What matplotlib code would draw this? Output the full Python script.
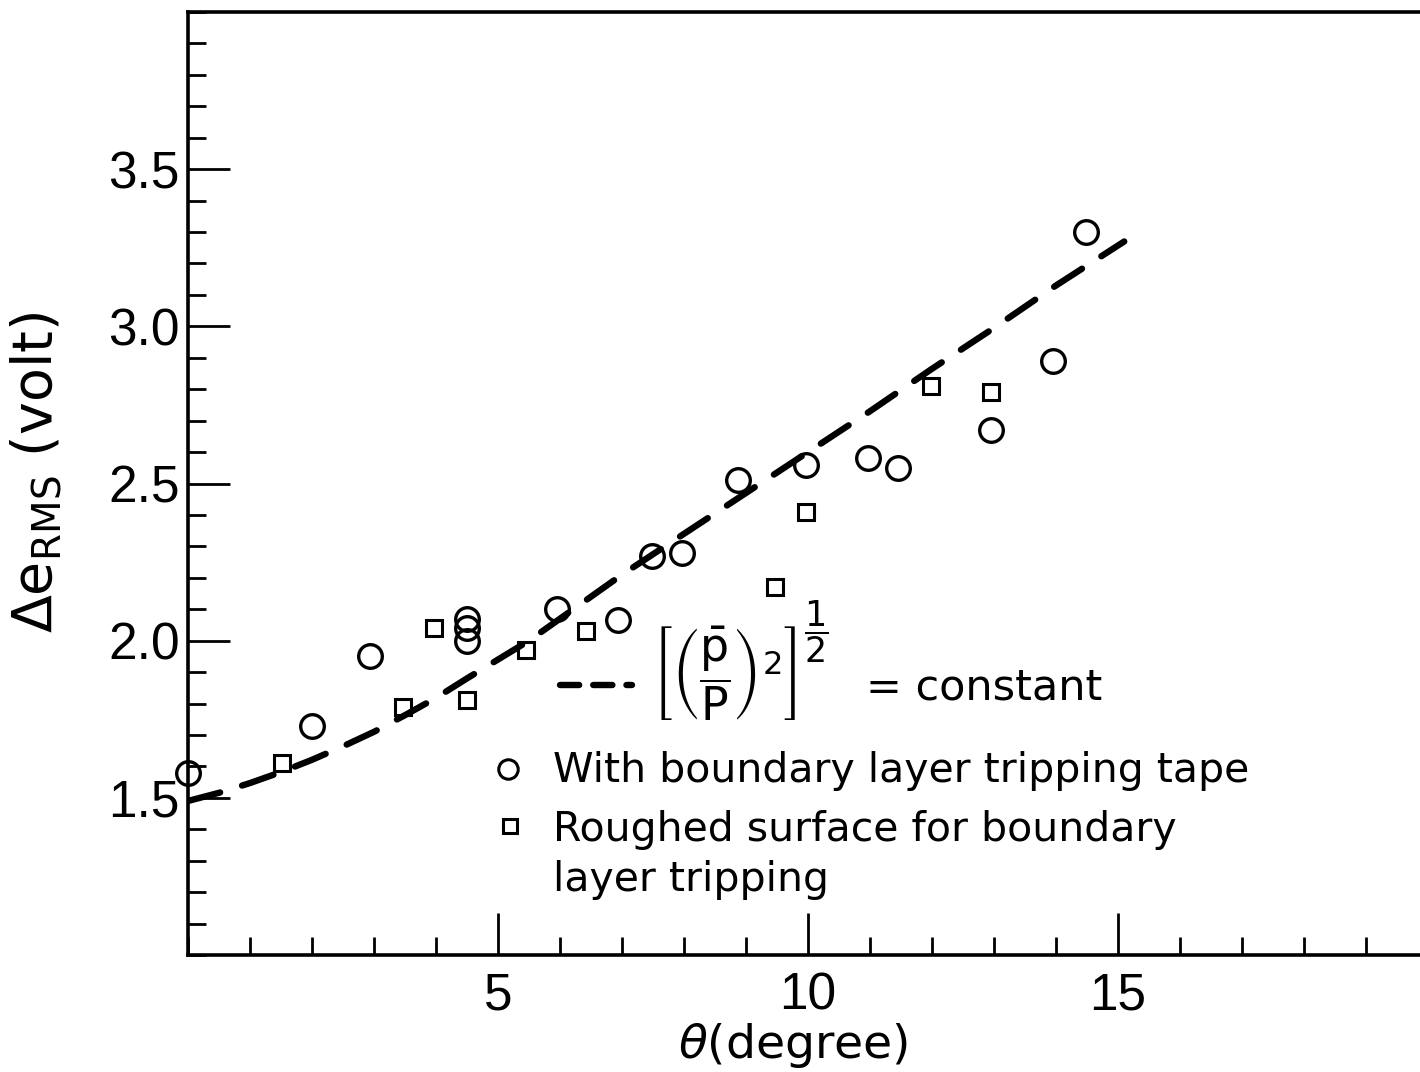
import matplotlib
matplotlib.use("Agg")
import matplotlib.pyplot as plt
from matplotlib.ticker import MultipleLocator, FixedLocator

# ---- data ----
circle_theta = [0.0, 2.0, 2.94, 4.5, 4.5, 4.5, 5.95, 6.94, 7.48, 7.97, 8.87, 9.97, 10.97, 11.45, 12.95, 13.95, 14.48]
circle_erms = [1.58, 1.73, 1.95, 2.07, 2.04, 2.00, 2.10, 2.065, 2.27, 2.28, 2.51, 2.56, 2.58, 2.55, 2.67, 2.89, 3.30]

square_theta = [1.52, 3.47, 3.97, 4.5, 5.45, 6.42, 9.47, 9.97, 11.98, 12.95]
square_erms = [1.61, 1.79, 2.04, 1.81, 1.97, 2.03, 2.17, 2.41, 2.81, 2.79]

curve_theta = [0.0, 0.5, 1.0, 1.5, 2.0, 2.5, 3.0, 3.5, 4.0, 4.5, 5.0, 5.5, 6.0,
               7.0, 8.0, 9.0, 10.0, 11.0, 12.0, 13.0, 14.0, 15.1]
curve_erms = [1.49, 1.516, 1.547, 1.582, 1.621, 1.664, 1.71, 1.763, 1.818, 1.88, 1.94, 2.00, 2.07,
              2.21, 2.34, 2.47, 2.60, 2.73, 2.865, 2.995, 3.13, 3.27]

x_major = [5, 10, 15]
x_labels = ["5", "10", "15"]
y_major = [1.5, 2.0, 2.5, 3.0, 3.5]
y_labels = ["1.5", "2.0", "2.5", "3.0", "3.5"]

legend_formula = r"$\left[\left(\dfrac{\bar{\mathrm{p}}}{\mathrm{P}}\right)^{2}\right]$"
legend_power = r"$\dfrac{1}{2}$"
legend_const = "= constant"
legend_circle = "With boundary layer tripping tape"
legend_square = "Roughed surface for boundary\nlayer tripping"

plt.rcParams['font.family'] = ['DejaVu Sans']
plt.rcParams['mathtext.fontset'] = 'dejavusans'

fig = plt.figure(figsize=(14.2, 10.72), dpi=100)
W, H = 1420, 1072
ax = fig.add_axes([188 / W, (H - 955) / H, (W - 188) / W, (955 - 12) / H])

ax.set_xlim(0, 19.87)
ax.set_ylim(1.0, 4.0)

# dashed curve
dash_kw = dict(color='black', lw=4.6, linestyle=(0, (5.2, 3.6)), dash_capstyle='round')
ax.plot(curve_theta, curve_erms, **dash_kw, zorder=2)

ax.plot(circle_theta, circle_erms, linestyle='none', marker='o', ms=17,
        mfc='none', mec='black', mew=2.4, zorder=3, clip_on=False)
ax.plot(square_theta, square_erms, linestyle='none', marker='s', ms=11,
        mfc='none', mec='black', mew=2.2, zorder=3, clip_on=False)

# spines
for s in ['left', 'bottom', 'top']:
    ax.spines[s].set_linewidth(2.6)
ax.spines['right'].set_visible(False)

# ticks
ax.xaxis.set_major_locator(FixedLocator(x_major))
ax.set_xticklabels(x_labels)
ax.xaxis.set_minor_locator(MultipleLocator(1))
ax.yaxis.set_major_locator(FixedLocator(y_major))
ax.set_yticklabels(y_labels)
ax.yaxis.set_minor_locator(MultipleLocator(0.1))

ax.tick_params(which='both', direction='in', top=False, right=False, width=2.0)
ax.tick_params(which='major', length=30)
ax.tick_params(which='minor', length=13)
ax.tick_params(axis='y', which='major', pad=6)
ax.tick_params(axis='x', which='major', pad=12)
for lab in ax.get_xticklabels() + ax.get_yticklabels():
    lab.set_fontfamily('Liberation Sans')
    lab.set_fontsize(37)

# axis labels
fig.text(793 / W, 1 - 1045 / H, r"$\theta$(degree)", fontsize=34, ha='center', va='center')
fig.text(37 / W, 1 - 472 / H, r"$\Delta\mathrm{e}_{\mathrm{RMS}}$ (volt)", fontsize=40,
         rotation=90, ha='center', va='center')

# legend (manual)
def ax_xy(px, py):
    return ((px - 188) / 1232, (955 - py) / 943)

x0, y0 = ax_xy(560, 685)
x1, _ = ax_xy(632, 685)
ax.plot([x0, x1], [y0, y0], transform=ax.transAxes, color='black', lw=4.6,
        linestyle=(0, (3.0, 2.2)), dash_capstyle='round')
tx, ty = ax_xy(652, 673)
ax.text(tx, ty, legend_formula, transform=ax.transAxes, fontsize=33, ha='left', va='center')
tx, ty = ax_xy(804, 632)
ax.text(tx, ty, legend_power, transform=ax.transAxes, fontsize=25, ha='left', va='center')
tx, ty = ax_xy(866, 687)
ax.text(tx, ty, legend_const, transform=ax.transAxes, fontsize=31, ha='left', va='center')

cx, cy = ax_xy(508, 769)
ax.plot([cx], [cy], transform=ax.transAxes, marker='o', ms=14, mfc='none', mec='black', mew=2.2)
tx, ty = ax_xy(553, 771)
ax.text(tx, ty, legend_circle, transform=ax.transAxes, fontsize=29.5, ha='left', va='center')

sx, sy = ax_xy(510, 826)
ax.plot([sx], [sy], transform=ax.transAxes, marker='s', ms=10, mfc='none', mec='black', mew=2.2)
tx, ty = ax_xy(553, 855)
ax.text(tx, ty, legend_square, transform=ax.transAxes, fontsize=29.5, ha='left', va='center',
        linespacing=1.3)

fig.savefig("out.png", dpi=100)
